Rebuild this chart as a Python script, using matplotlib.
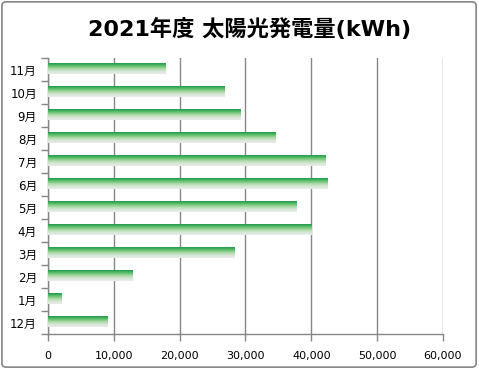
import numpy as np
import matplotlib
matplotlib.use('Agg')
import matplotlib.pyplot as plt
from matplotlib.colors import LinearSegmentedColormap
from matplotlib.patches import FancyBboxPatch

plt.rcParams['font.family'] = ['DejaVu Sans', 'Noto Sans CJK JP']

months = ['12月', '1月', '2月', '3月', '4月', '5月', '6月', '7月', '8月', '9月', '10月', '11月']
power = [9100, 2100, 12800, 28400, 40000, 37700, 42500, 42100, 34500, 29300, 26800, 17800]
title = '2021年度 太陽光発電量(kWh)'

fig = plt.figure(figsize=(4.79, 3.69), dpi=100)
ax = fig.add_axes([0.1002, 0.0949, 0.8246, 0.748])

# gradient fill: dark green at top edge fading to pale grey at bottom
cmap = LinearSegmentedColormap.from_list('g', ['#1e9a4a', '#5cbf6c', '#a8d8a0', '#d6e6d6', '#e8ece8'])
grad = np.linspace(0, 1, 64).reshape(-1, 1)
h = 0.46
for i, v in enumerate(power):
    ax.imshow(grad, cmap=cmap, aspect='auto', extent=[0, v, i - h / 2 + 0.05, i + h / 2 + 0.05],
              origin='upper', zorder=3, interpolation='bilinear')

ax.set_xlim(0, 60000)
ax.set_ylim(-0.5, len(months) - 0.5)
ax.set_xticks(np.arange(0, 60001, 10000))
ax.set_xticklabels(['{:,}'.format(x) for x in range(0, 60001, 10000)])
ax.set_yticks(np.arange(len(months)))
ax.set_yticklabels(months)
ax.set_yticks(np.arange(-0.5, len(months), 1), minor=True)
ax.tick_params(axis='y', which='major', length=0, labelsize=8.5, pad=8)
ax.tick_params(axis='y', which='minor', length=5, color='#868686', width=1)
ax.tick_params(axis='x', length=5, color='#868686', width=1, labelsize=8, pad=7)

ax.grid(axis='x', color='#868686', lw=1, zorder=0)
for s in ['top', 'right']:
    ax.spines[s].set_visible(False)
for s in ['left', 'bottom']:
    ax.spines[s].set_color('#868686')
    ax.spines[s].set_linewidth(1)

fig.text(0.522, 0.922, title, ha='center', va='center', fontsize=16, fontweight='bold')

border = FancyBboxPatch((0.004, 0.005), 0.99, 0.99, boxstyle='round,pad=0,rounding_size=0.01',
                        transform=fig.transFigure, fill=False, edgecolor='#868686', lw=1.2)
fig.patches.append(border)

fig.savefig('out.png', dpi=100)
